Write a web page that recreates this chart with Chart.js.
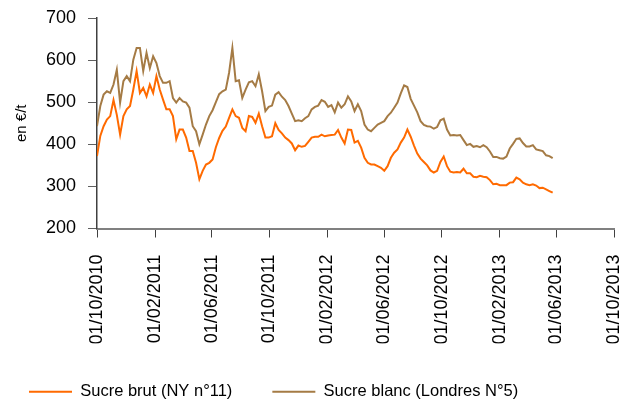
<!DOCTYPE html>
<html><head><meta charset="utf-8">
<script src="https://cdn.jsdelivr.net/npm/chart.js@4.4.0/dist/chart.umd.min.js"></script>
<style>html,body{margin:0;padding:0;background:#fff;}#wrap{width:632px;height:403px;position:relative;}</style>
</head><body><div id="wrap"><canvas id="c"></canvas></div>
<script>
// Weekly observation dates
const DATES = [
'2010-10-01','2010-10-08','2010-10-15','2010-10-22','2010-10-29','2010-11-05','2010-11-12','2010-11-19','2010-11-26','2010-12-03',
'2010-12-10','2010-12-17','2010-12-24','2010-12-31','2011-01-07','2011-01-14','2011-01-21','2011-01-28','2011-02-04','2011-02-11',
'2011-02-18','2011-02-25','2011-03-04','2011-03-11','2011-03-18','2011-03-25','2011-04-01','2011-04-08','2011-04-15','2011-04-22',
'2011-04-29','2011-05-06','2011-05-13','2011-05-20','2011-05-27','2011-06-03','2011-06-10','2011-06-17','2011-06-24','2011-07-01',
'2011-07-08','2011-07-15','2011-07-22','2011-07-29','2011-08-05','2011-08-12','2011-08-19','2011-08-26','2011-09-02','2011-09-09',
'2011-09-16','2011-09-23','2011-09-30','2011-10-07','2011-10-14','2011-10-21','2011-10-28','2011-11-04','2011-11-11','2011-11-18',
'2011-11-25','2011-12-02','2011-12-09','2011-12-16','2011-12-23','2011-12-30','2012-01-06','2012-01-13','2012-01-20','2012-01-27',
'2012-02-03','2012-02-10','2012-02-17','2012-02-24','2012-03-02','2012-03-09','2012-03-16','2012-03-23','2012-03-30','2012-04-06',
'2012-04-13','2012-04-20','2012-04-27','2012-05-04','2012-05-11','2012-05-18','2012-05-25','2012-06-01','2012-06-08','2012-06-15',
'2012-06-22','2012-06-29','2012-07-06','2012-07-13','2012-07-20','2012-07-27','2012-08-03','2012-08-10','2012-08-17','2012-08-24',
'2012-08-31','2012-09-07','2012-09-14','2012-09-21','2012-09-28','2012-10-05','2012-10-12','2012-10-19','2012-10-26','2012-11-02',
'2012-11-09','2012-11-16','2012-11-23','2012-11-30','2012-12-07','2012-12-14','2012-12-21','2012-12-28','2013-01-04','2013-01-11',
'2013-01-18','2013-01-25','2013-02-01','2013-02-08','2013-02-15','2013-02-22','2013-03-01','2013-03-08','2013-03-15','2013-03-22',
'2013-03-29','2013-04-05','2013-04-12','2013-04-19','2013-04-26','2013-05-03','2013-05-10','2013-05-17','2013-05-24'
];
// Sucre brut (NY n°11), €/t
const SUCRE_BRUT = [
372,420,443,459,467,505,470,423,467,483,
491,530,574,522,534,514,542,522,562,530,
506,483,483,467,412,435,435,416,384,384,
356,317,337,352,356,364,393,415,432,442,
463,483,467,463,439,431,467,465,451,473,
443,416,416,419,450,434,426,416,410,402,
386,397,394,396,406,416,418,418,423,419,
421,422,423,434,416,402,435,434,404,408,
392,368,356,352,352,348,344,337,348,368,
380,388,404,416,435,418,397,378,366,358,
350,338,333,337,358,371,348,335,333,334,
333,342,331,331,323,322,325,323,322,315,
305,306,303,303,303,309,310,321,317,309,
305,303,305,302,296,297,293,289,285
];
// Sucre blanc (Londres N°5), €/t
const SUCRE_BLANC = [
443,491,518,526,522,542,577,499,550,562,
550,601,629,629,574,617,581,609,593,562,
546,546,550,510,499,510,502,499,487,443,
431,400,423,447,467,481,500,519,526,530,
570,629,550,552,510,530,547,550,538,566,
526,479,489,492,518,524,513,505,491,473,
455,457,455,462,467,483,489,492,505,501,
489,493,476,499,487,495,514,502,479,495,
479,447,435,431,439,447,451,455,467,475,
487,499,521,540,536,508,492,476,455,446,
443,442,437,441,457,461,435,421,422,421,
422,410,398,401,394,396,393,398,393,383,
370,370,367,366,371,390,401,413,414,403,
395,395,398,388,386,384,374,372,367
];
const SERIES_NAMES = ['Sucre brut (NY n°11)', 'Sucre blanc (Londres N°5)'];
const SERIES_COLORS = ['#FF6A00', '#A57B45'];
const X_TICK_LABELS = ['01/10/2010','01/02/2011','01/06/2011','01/10/2011','01/02/2012','01/06/2012','01/10/2012','01/02/2013','01/06/2013','01/10/2013'];
const Y_TICKS = [200, 300, 400, 500, 600, 700];
const Y_TITLE = 'en €/t';

function isoToTime(s) { const p = s.split('-').map(Number); return Date.UTC(p[0], p[1] - 1, p[2]); }
function frToTime(s) { const p = s.split('/').map(Number); return Date.UTC(p[2], p[1] - 1, p[0]); }
const xTickValues = X_TICK_LABELS.map(frToTime);
const xs = DATES.map(isoToTime);
const brutPts = xs.map((x, i) => ({ x: x, y: SUCRE_BRUT[i] }));
const blancPts = xs.map((x, i) => ({ x: x, y: SUCRE_BLANC[i] }));

Chart.defaults.font.family = "'Liberation Sans', Arial, sans-serif";
Chart.defaults.color = '#000';

new Chart(document.getElementById('c'), {
  type: 'line',
  data: {
    datasets: [
      { label: SERIES_NAMES[0], data: brutPts, borderColor: SERIES_COLORS[0], backgroundColor: SERIES_COLORS[0], borderWidth: 2, pointRadius: 0, tension: 0, fill: false },
      { label: SERIES_NAMES[1], data: blancPts, borderColor: SERIES_COLORS[1], backgroundColor: SERIES_COLORS[1], borderWidth: 2, pointRadius: 0, tension: 0, fill: false }
    ]
  },
  options: {
    responsive: true,
    maintainAspectRatio: false,
    animation: false,
    devicePixelRatio: 1,
    layout: { padding: { left: -11, top: 18, right: 18, bottom: -7 } },
    plugins: {
      tooltip: { enabled: false },
      legend: {
        position: 'bottom',
        align: 'start',
        labels: {
          usePointStyle: true,
          pointStyle: 'line',
          pointStyleWidth: 43,
          padding: 40,
          font: { size: 16.5 },
          color: '#000'
        }
      }
    },
    scales: {
      x: {
        type: 'linear',
        min: xTickValues[0],
        max: xTickValues[xTickValues.length - 1],
        afterBuildTicks: (s) => { s.ticks = xTickValues.map(v => ({ value: v })); },
        afterFit: (s) => { s.height = 115; s.paddingLeft = 0; s.paddingRight = 0; },
        ticks: {
          autoSkip: false,
          minRotation: 90,
          maxRotation: 90,
          padding: 17,
          font: { size: 18 },
          color: '#000',
          callback: (v, i) => X_TICK_LABELS[i]
        },
        grid: { drawOnChartArea: false, drawTicks: true, tickLength: 9, color: '#404040', lineWidth: 1 },
        border: { display: true, color: '#808080', width: 2 }
      },
      y: {
        min: 200,
        max: 700,
        afterBuildTicks: (s) => { s.ticks = Y_TICKS.map(v => ({ value: v })); },
        afterFit: (s) => { s.width = 108; s.paddingTop = 0; s.paddingBottom = 0; },
        ticks: { padding: 12, font: { size: 18 }, color: '#000' },
        grid: { drawOnChartArea: false, drawTicks: true, tickLength: 9, color: '#606060', lineWidth: 1 },
        border: { display: true, color: '#404040', width: 1.5 },
        title: { display: true, text: Y_TITLE, font: { size: 15 }, color: '#000', padding: { top: 23.5, bottom: 0 } }
      }
    }
  }
});
</script></body></html>
